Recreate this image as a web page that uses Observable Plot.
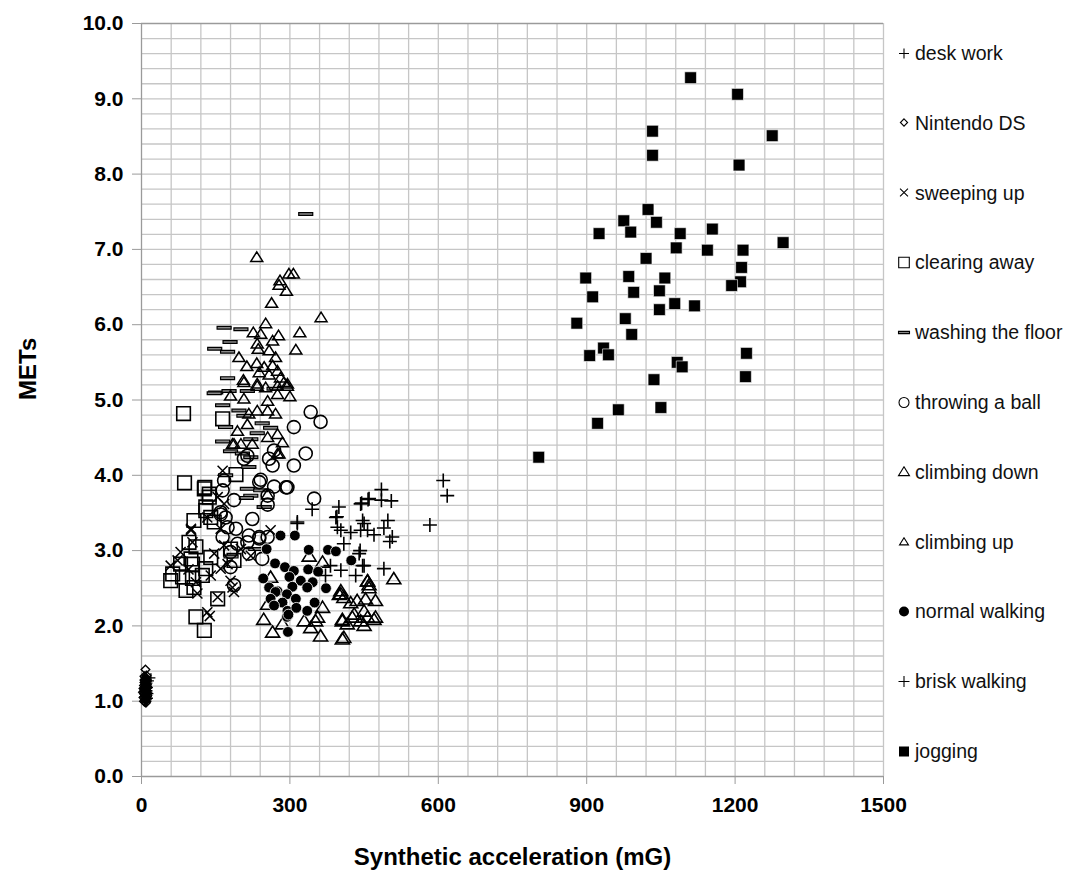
<!DOCTYPE html>
<html>
<head>
<meta charset="utf-8">
<script src="https://cdn.jsdelivr.net/npm/d3@7"></script>
<script src="https://cdn.jsdelivr.net/npm/@observablehq/plot@0.6"></script>
<style>
  html, body { margin: 0; padding: 0; background: #fff; }
  #wrap { position: relative; width: 1067px; height: 887px; font-family: "Liberation Sans", Arial, sans-serif; }
  #wrap svg text { font-weight: bold; }
  #legend { position: absolute; left: 0; top: 0; width: 1067px; height: 887px; pointer-events: none; }
  .item { position: absolute; left: 897px; display: flex; align-items: center; transform: translateY(-50%); font-size: 19.5px; color: #111; white-space: nowrap; font-family: "Liberation Sans", Arial, sans-serif; }
  .item svg { margin-right: 4px; }
</style>
</head>
<body>
<div id="wrap"></div>
<script>
// ---- data: [synthetic acceleration (mG), METs] ----
const deskWork = [[6,1.01],[8,1.03],[10,1.05],[12,1.06],[7,1.08],[9,1.09],[11,1.11],[13,1.12],[6,1.13],[8,1.15],[10,1.16],[12,1.17],[14,1.18],[7,1.20],[9,1.21],[11,1.23],[13,1.24],[8,1.25],[10,1.27],[12,1.28],[16,1.27],[19,1.31],[5,1.17],[15,1.10],[9,0.99],[11,1.00],[14,1.04],[7,1.29],[10,1.32],[13,1.14]];
const nintendoDS = [[5,1.00],[7,1.02],[9,1.04],[6,1.06],[8,1.07],[10,1.09],[5,1.10],[7,1.11],[9,1.13],[11,1.14],[6,1.15],[8,1.16],[10,1.18],[7,1.19],[9,1.20],[5,1.21],[11,1.22],[8,1.23],[6,1.25],[10,1.26],[7,1.27],[9,1.29],[8,1.31],[6,1.33],[10,1.34],[8,1.42],[4,1.05],[12,1.08],[4,1.17],[12,1.19],[3,1.12],[11,1.03],[7,0.99],[9,0.98],[6,1.28],[10,1.12]];
const sweepingUp = [[164,4.06],[100,3.29],[261,3.27],[160,3.29],[221,2.93],[180,2.60],[184,2.51],[154,2.38],[133,2.18],[138,2.13],[113,2.43],[59,2.80],[73,2.87],[79,2.98],[103,3.11],[160,2.76],[174,2.82],[140,2.67],[201,3.02],[167,3.07],[147,2.96],[110,2.58],[100,3.27],[133,3.44],[154,3.71],[167,3.62],[187,2.45],[95,2.75]];
const clearingAway = [[85,4.82],[164,4.75],[87,3.90],[128,3.84],[191,4.01],[137,3.75],[130,3.58],[106,3.40],[140,3.44],[127,3.82],[137,3.71],[130,3.53],[147,3.38],[96,3.11],[110,3.05],[140,2.91],[79,2.82],[100,2.89],[59,2.60],[63,2.69],[90,2.47],[106,2.51],[123,2.67],[130,2.76],[154,2.36],[110,2.12],[127,1.94],[180,3.02],[187,2.87],[83,2.65],[103,2.82],[103,2.63]];
const washingFloor = [[332,7.47],[167,5.96],[201,5.94],[179,5.77],[148,5.68],[174,5.64],[174,5.29],[150,5.10],[177,5.12],[214,5.12],[268,5.15],[164,4.93],[197,4.86],[207,4.79],[170,4.64],[244,4.69],[261,4.63],[234,4.56],[164,4.45],[221,4.48],[180,4.32],[221,4.24],[204,4.29],[217,4.11],[170,4.00],[214,3.82],[241,3.80],[221,3.73],[248,3.58],[147,5.09],[212,3.70],[231,3.02],[181,2.92]];
const throwingBall = [[342,4.84],[362,4.71],[308,4.64],[332,4.29],[308,4.13],[268,4.33],[258,4.22],[265,4.13],[214,4.26],[207,4.22],[292,3.84],[268,3.85],[241,3.94],[238,3.91],[349,3.69],[255,3.73],[255,3.61],[224,3.42],[167,3.93],[164,3.80],[187,3.67],[160,3.51],[170,3.44],[191,3.29],[217,3.20],[238,3.18],[295,3.84],[238,3.16],[255,3.18],[244,2.89],[187,2.54],[214,3.11],[194,3.09],[180,2.98],[160,3.48],[174,3.31],[164,3.18],[180,2.78],[217,2.96]];
const climbingDown = [[247,2.09],[265,1.92],[261,2.65],[255,2.29],[285,2.03],[329,2.07],[342,1.98],[352,2.07],[362,1.87],[356,2.12],[366,2.25],[339,2.93],[366,2.85],[403,2.47],[400,2.42],[409,2.38],[423,2.31],[436,2.34],[457,2.60],[460,2.55],[473,2.34],[450,2.20],[457,2.12],[426,2.12],[443,2.07],[406,2.09],[416,2.03],[406,1.83],[473,2.12],[510,2.63],[457,2.60],[460,2.51],[453,2.36],[403,2.43],[406,2.07],[470,2.09],[450,2.01],[430,2.16],[409,1.85]];
const climbingUp = [[233,6.90],[298,6.68],[307,6.68],[280,6.59],[278,6.53],[293,6.45],[263,6.29],[363,6.10],[251,6.02],[226,5.90],[241,5.88],[277,5.86],[320,5.90],[265,5.79],[234,5.75],[312,5.67],[236,5.68],[258,5.66],[271,5.57],[197,5.57],[213,5.45],[233,5.49],[248,5.44],[265,5.46],[238,5.37],[258,5.34],[275,5.39],[281,5.30],[206,5.27],[234,5.22],[288,5.24],[295,5.19],[207,5.24],[234,5.19],[251,5.17],[275,5.19],[295,5.22],[300,5.05],[180,5.06],[207,5.02],[255,4.99],[275,5.08],[217,4.82],[234,4.86],[255,4.86],[271,4.82],[214,4.68],[194,4.59],[255,4.51],[275,4.55],[285,4.44],[187,4.42],[224,4.42],[275,4.29],[255,3.75],[184,4.42],[201,4.42],[278,4.29]];
const normalWalking = [[281,3.20],[310,3.20],[253,3.02],[338,3.01],[377,3.01],[393,2.99],[270,2.83],[290,2.78],[308,2.73],[337,2.75],[357,2.72],[424,2.87],[246,2.63],[299,2.65],[322,2.60],[346,2.58],[373,2.50],[258,2.51],[275,2.46],[305,2.52],[335,2.51],[294,2.42],[271,2.45],[261,2.36],[285,2.31],[312,2.36],[350,2.31],[268,2.27],[295,2.20],[313,2.24],[335,2.20],[294,2.12],[296,1.92],[297,2.15]];
const briskWalking = [[610,3.93],[618,3.73],[583,3.34],[485,3.81],[458,3.68],[445,3.63],[505,3.66],[485,3.67],[399,3.58],[395,3.45],[447,3.40],[498,3.40],[490,3.30],[403,3.27],[423,3.24],[457,3.27],[470,3.21],[507,3.18],[502,3.12],[409,3.09],[442,3.00],[447,2.80],[490,2.76],[403,2.74],[433,2.67],[382,2.80],[315,3.36],[396,3.31],[443,3.27],[440,2.96],[450,2.80],[372,2.67],[345,3.55],[315,3.38],[393,3.44],[443,3.62],[460,3.69],[450,3.36]];
const jogging = [[1110,9.28],[1205,9.06],[1033,8.57],[1275,8.51],[1033,8.25],[1208,8.12],[1024,7.53],[975,7.38],[1041,7.36],[925,7.21],[989,7.23],[1089,7.21],[1154,7.27],[1297,7.09],[1081,7.02],[1144,6.99],[1216,6.99],[1020,6.88],[1213,6.76],[1211,6.57],[898,6.62],[912,6.37],[1058,6.62],[985,6.64],[995,6.43],[1047,6.45],[978,6.08],[1078,6.28],[1118,6.25],[1047,6.20],[1193,6.52],[880,6.02],[991,5.87],[906,5.59],[934,5.69],[944,5.60],[1083,5.50],[1093,5.44],[1223,5.62],[1221,5.31],[1036,5.27],[922,4.69],[964,4.87],[1050,4.90],[803,4.24]];

const xTicks = [0, 300, 600, 900, 1200, 1500];
const yTicks = [0, 1, 2, 3, 4, 5, 6, 7, 8, 9, 10];
const xTitle = "Synthetic acceleration (mG)";
const yTitle = "METs";

// ---- custom marker shapes (r = half extent) ----
const shape = f => ({draw(ctx, size) { f(ctx, Math.sqrt(size / Math.PI)); }});
const SQUARE = shape((c, r) => { c.rect(-r, -r, 2 * r, 2 * r); });
const CIRCLE = shape((c, r) => { c.moveTo(r, 0); c.arc(0, 0, r, 0, 2 * Math.PI); });
const PLUS = shape((c, r) => { c.moveTo(-r, 0); c.lineTo(r, 0); c.moveTo(0, -r); c.lineTo(0, r); });
const TIMES = shape((c, r) => { const k = r * 0.72; c.moveTo(-k, -k); c.lineTo(k, k); c.moveTo(-k, k); c.lineTo(k, -k); });
const TRI = shape((c, r) => { c.moveTo(0, -r * 0.85); c.lineTo(r, r * 0.75); c.lineTo(-r, r * 0.75); c.closePath(); });
const DIAMOND = shape((c, r) => { c.moveTo(0, -r); c.lineTo(r, 0); c.lineTo(0, r); c.lineTo(-r, 0); c.closePath(); });
const BAR = shape((c, r) => { c.rect(-r, -r * 0.2, 2 * r, r * 0.4); });

const series = [
  {name: "desk work", data: deskWork, symbol: PLUS, r: 4.5, fill: "none", stroke: "#000", sw: 1.4, lr: 5},
  {name: "Nintendo DS", data: nintendoDS, symbol: DIAMOND, r: 4.3, fill: "none", stroke: "#000", sw: 1.4, lr: 3.6},
  {name: "sweeping up", data: sweepingUp, symbol: TIMES, r: 7, fill: "none", stroke: "#000", sw: 1.5, lr: 5.5},
  {name: "clearing away", data: clearingAway, symbol: SQUARE, r: 6.8, fill: "none", stroke: "#000", sw: 1.6, lr: 5.3},
  {name: "washing the floor", data: washingFloor, symbol: BAR, r: 7, fill: "#888", stroke: "#000", sw: 1.2, lr: 5.5},
  {name: "throwing a ball", data: throwingBall, symbol: CIRCLE, r: 6.5, fill: "none", stroke: "#000", sw: 1.6, lr: 5},
  {name: "climbing down", data: climbingDown, symbol: TRI, r: 7, fill: "none", stroke: "#000", sw: 1.6, lr: 5.5},
  {name: "climbing up", data: climbingUp, symbol: TRI, r: 6, fill: "none", stroke: "#000", sw: 1.5, lr: 4.5},
  {name: "normal walking", data: normalWalking, symbol: CIRCLE, r: 5.4, fill: "#000", stroke: "#fff", sw: 0.8, lr: 5},
  {name: "brisk walking", data: briskWalking, symbol: PLUS, r: 7, fill: "none", stroke: "#000", sw: 1.6, lr: 5.5},
  {name: "jogging", data: jogging, symbol: SQUARE, r: 5.9, fill: "#000", stroke: "#fff", sw: 0.6, lr: 5}
];

const gridStroke = "#c6c6c6";
const axisStroke = "#9a9a9a";

const chart = Plot.plot({
  width: 1067,
  height: 887,
  marginLeft: 141,
  marginRight: 184,
  marginTop: 23,
  marginBottom: 111,
  style: {fontFamily: "'Liberation Sans', Arial, sans-serif", background: "#fff", color: "#000", overflow: "visible"},
  x: {domain: [0, 1500]},
  y: {domain: [0, 10]},
  marks: [
    Plot.gridX(d3.range(60, 1501, 60), {stroke: gridStroke, strokeOpacity: 1, strokeWidth: 1.3}),
    Plot.gridY(d3.range(1, 50).map(i => +(i * 0.2).toFixed(1)), {stroke: gridStroke, strokeOpacity: 1, strokeWidth: 1.3}),
    Plot.ruleY([10], {stroke: axisStroke, strokeWidth: 1.3}),
    Plot.ruleY([0], {stroke: axisStroke, strokeWidth: 1.3}),
    Plot.ruleX([0], {stroke: axisStroke, strokeWidth: 1.3}),
    Plot.axisX(xTicks, {tickFormat: d => String(d), fontSize: 21, fontWeight: "bold", tickSize: 8, tickPadding: 13, stroke: axisStroke, fill: "#000", label: null}),
    Plot.axisY(yTicks, {tickFormat: d => d.toFixed(1), fontSize: 21, fontWeight: "bold", tickSize: 9, tickPadding: 9, stroke: axisStroke, fill: "#000", label: null}),
    Plot.text([xTitle], {frameAnchor: "bottom", dy: 88, fontSize: 24, fontWeight: "bold", fill: "#000"}),
    Plot.text([yTitle], {frameAnchor: "left", dx: -113, rotate: -90, fontSize: 24, fontWeight: "bold", fill: "#000"}),
    ...series.map(s => Plot.dot(s.data, {x: d => d[0], y: d => d[1], symbol: s.symbol, r: s.r, fill: s.fill, stroke: s.stroke, strokeWidth: s.sw}))
  ]
});

const wrap = document.getElementById("wrap");
wrap.appendChild(chart);

// ---- legend on the right ----
const legend = document.createElement("div");
legend.id = "legend";
series.forEach((s, i) => {
  const item = document.createElement("div");
  item.className = "item";
  item.style.top = (53 + i * 69.8) + "px";
  const d = d3.symbol(s.symbol, s.lr * s.lr * Math.PI)();
  const lsw = s.name === "normal walking" || s.name === "jogging" ? 0 : 1.1;
  item.innerHTML = `<svg width="14" height="14" viewBox="-7 -7 14 14"><path d="${d}" fill="${s.fill === "none" ? "#fff" : s.fill}" stroke="#000" stroke-width="${lsw}"></path></svg><span>${s.name}</span>`;
  legend.appendChild(item);
});
wrap.appendChild(legend);
</script>
</body>
</html>
